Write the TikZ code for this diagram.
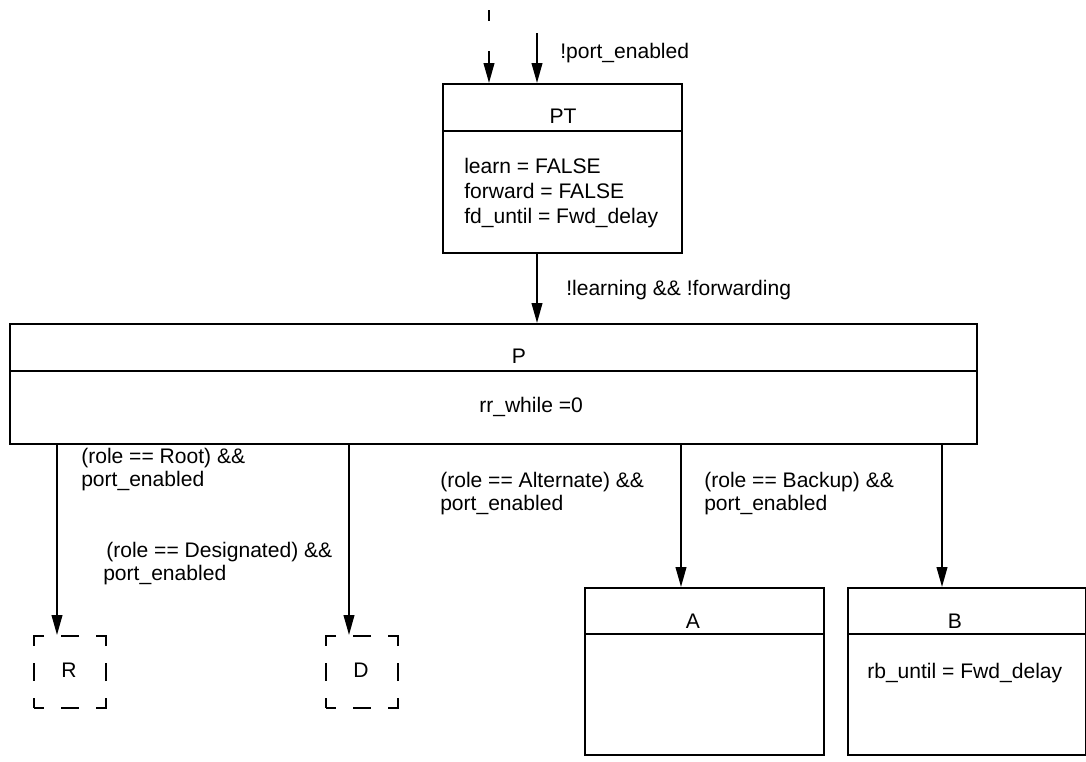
\documentclass[tikz,border=0pt]{standalone}
\usepackage{fontspec}
\setmainfont{Liberation Sans}
\usetikzlibrary{arrows.meta}
\begin{document}
\begin{tikzpicture}[x=0.75pt,y=-0.75pt,
  box/.style={draw, line width=1.7pt, inner sep=0pt, anchor=north west},
  dbox/.style={draw, line width=1.6pt, inner sep=0pt, anchor=north west,
    dash pattern=on 15pt off 12.75pt on 13.5pt off 12.75pt, dash phase=7.5pt},
  arr/.style={line width=1.5pt, -{Triangle[length=15pt,width=8pt]}},
  txt/.style={font=\fontsize{15.8}{18.75}\selectfont, inner sep=0pt},
  lbl/.style={font=\fontsize{15.8}{17}\selectfont, inner sep=0pt, align=left, anchor=base west},
]
\useasboundingbox (0,0) rectangle (1086,761);

% boxes
\node[box, minimum width=179.25pt, minimum height=126.75pt] (PT) at (442,83) {};
\draw[line width=1.7pt] (442,131) -- (681,131);
\node[box, minimum width=725.25pt, minimum height=90pt] (P) at (9,323) {};
\draw[line width=1.7pt] (9,371) -- (976,371);
\node[box, minimum width=179.25pt, minimum height=125.25pt] (A) at (584,587) {};
\draw[line width=1.7pt] (584,634) -- (823,634);
\node[box, minimum width=178.5pt, minimum height=125.25pt] (B) at (847,587) {};
\draw[line width=1.7pt] (847,634) -- (1085,634);
\node[dbox, minimum width=54pt, minimum height=54pt] (R) at (33,635) {};
\node[dbox, minimum width=54pt, minimum height=54pt] (D) at (325,635) {};

% box texts
\node[txt, anchor=base] (ptname) at (563,123) {PT};
\node[txt, anchor=base west, align=left] (ptact) at (464,223) {learn = FALSE\\forward = FALSE\\fd\_until = Fwd\_delay};
\node[txt, anchor=base] (pname) at (519,363) {P};
\node[txt, anchor=base west] (pact) at (479,412) {rr\_while =0};
\node[txt, anchor=base] (aname) at (693,628) {A};
\node[txt, anchor=base] (bname) at (955,628) {B};
\node[txt, anchor=base west] (bact) at (867,678) {rb\_until = Fwd\_delay};
\node[txt, anchor=base] (rname) at (69,677) {R};
\node[txt, anchor=base] (dname) at (361,677) {D};

% coordinates
\coordinate (s0) at (489,10);
\coordinate (s0e) at (489,21);
\coordinate (s1) at (489,51);
\coordinate (s2) at (537,33);
\coordinate (xr) at (57,0);
\coordinate (xd) at (349,0);
\coordinate (xa) at (681,0);
\coordinate (xb) at (942,0);

% connectors
\draw[line width=1.5pt] (s0) -- (s0e);
\draw[arr] (s1) -- (s1 |- PT.north);
\draw[arr] (s2) -- (s2 |- PT.north);
\draw[arr] (s2 |- PT.south) -- (s2 |- P.north);
\draw[arr] (xr |- P.south) -- (xr |- R.north);
\draw[arr] (xd |- P.south) -- (xd |- D.north);
\draw[arr] (xa |- P.south) -- (xa |- A.north);
\draw[arr] (xb |- P.south) -- (xb |- B.north);

% connector labels
\node[txt, anchor=base west] (lpe) at (560,58) {!port\_enabled};
\node[txt, anchor=base west] (llf) at (566,295) {!learning \&\& !forwarding};
\node[lbl] (lroot) at (81,486) {(role == Root) \&\&\\port\_enabled};
\node[lbl] (ldes) at (103,580) {\hspace*{2.25pt}(role == Designated) \&\&\\port\_enabled};
\node[lbl] (lalt) at (440,510) {(role == Alternate) \&\&\\port\_enabled};
\node[lbl] (lbak) at (704,510) {(role == Backup) \&\&\\port\_enabled};
\end{tikzpicture}
\end{document}
